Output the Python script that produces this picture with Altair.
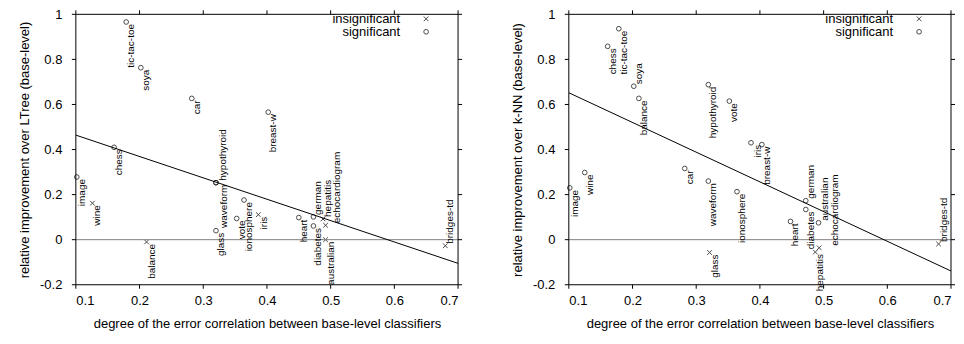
import altair as alt
import pandas as pd

# ---------------- data ----------------
x_ticks = [0.1, 0.2, 0.3, 0.4, 0.5, 0.6, 0.7]
y_ticks = [-0.2, 0.0, 0.2, 0.4, 0.6, 0.8, 1.0]
x_title = "degree of the error correlation between base-level classifiers"

# left panel: relative improvement over LTree
ltree_names = ["tic-tac-toe", "soya", "car", "breast-w", "chess", "image", "wine",
               "balance", "glass", "waveform", "hypothyroid", "vote", "ionosphere",
               "iris", "heart", "diabetes", "german", "hepatitis", "echocardiogram",
               "australian", "bridges-td"]
ltree_x = [0.179, 0.202, 0.282, 0.402, 0.160, 0.1015, 0.126,
           0.211, 0.320, 0.320, 0.320, 0.3525, 0.364,
           0.3865, 0.450, 0.473, 0.473, 0.488, 0.492,
           0.492, 0.680]
ltree_y = [0.966, 0.763, 0.627, 0.566, 0.410, 0.278, 0.162,
           -0.010, 0.040, 0.253, 0.253, 0.094, 0.176,
           0.111, 0.098, 0.061, 0.101, 0.092, 0.064,
           0.000, -0.027]
ltree_sig = ["significant", "significant", "significant", "significant", "significant",
             "significant", "insignificant", "insignificant", "significant", "significant",
             "significant", "significant", "significant", "insignificant", "significant",
             "significant", "significant", "insignificant", "insignificant",
             "insignificant", "insignificant"]
ltree_fit_x = [0.1, 0.7]
ltree_fit_y = [0.464, -0.105]

# right panel: relative improvement over k-NN
knn_names = ["chess", "tic-tac-toe", "soya", "balance", "hypothyroid", "vote", "iris",
             "breast-w", "image", "wine", "car", "waveform", "ionosphere", "glass",
             "heart", "diabetes", "german", "australian", "hepatitis", "echocardiogram",
             "bridges-td"]
knn_x = [0.161, 0.1785, 0.202, 0.210, 0.319, 0.352, 0.386,
         0.403, 0.1015, 0.125, 0.282, 0.319, 0.364, 0.321,
         0.448, 0.472, 0.472, 0.492, 0.487, 0.493,
         0.6805]
knn_y = [0.858, 0.936, 0.681, 0.627, 0.688, 0.615, 0.430,
         0.422, 0.230, 0.298, 0.316, 0.260, 0.213, -0.057,
         0.081, 0.134, 0.173, 0.075, -0.055, -0.036,
         -0.019]
knn_sig = ["significant"] * 13 + ["insignificant"] + ["significant"] * 4 + \
          ["insignificant", "insignificant", "insignificant"]
knn_fit_x = [0.1, 0.7]
knn_fit_y = [0.652, -0.139]

# label placement styles (labels drawn upward instead of downward, extra sideways shift)
ltree_up = ["hypothyroid", "german", "hepatitis", "echocardiogram", "bridges-td"]
knn_up = ["soya", "german", "australian", "echocardiogram", "bridges-td"]
ltree_shift = {"waveform": 8, "hypothyroid": 7, "echocardiogram": 11, "iris": 6}
knn_shift = {"echocardiogram": 16, "australian": 7, "iris": 7}

# ---------------- style ----------------
FONT = "Liberation Sans"
XPATH = "M-1,-1L1,1M-1,1L1,-1"
W, H = 383, 271
TICK = 4

xscale = alt.Scale(domain=[x_ticks[0], x_ticks[-1]], nice=False, zero=False)
yscale = alt.Scale(domain=[y_ticks[0], y_ticks[-1]], nice=False, zero=False)
shape_scale = alt.Scale(domain=["insignificant", "significant"], range=[XPATH, "circle"])

ylabel_expr = "datum.value < 0 ? '-' + format(-datum.value, '~g') : format(datum.value, '~g')"


def panel(names, xs, ys, sig, up, shift, fit_x, fit_y, ytitle):
    pts = pd.DataFrame({"name": names, "x": xs, "y": ys, "sig": sig})
    pts["up"] = pts["name"].isin(up)
    pts["shift"] = [shift.get(n, 5) for n in names]
    fit = pd.DataFrame({"x": fit_x, "y": fit_y})
    xt = pd.DataFrame({"v": x_ticks})
    yt = pd.DataFrame({"v": y_ticks})

    # one identical axis definition shared by every layer, so the merged axis is clean
    xaxis = alt.Axis(values=x_ticks, format=".1f", title=x_title, domain=False,
                     ticks=False, labelPadding=6 + TICK, titlePadding=10, grid=False,
                     orient="bottom")
    yaxis = alt.Axis(values=y_ticks, labelExpr=ylabel_expr, title=ytitle, domain=False,
                     ticks=False, labelPadding=10 + TICK, titlePadding=8, grid=False,
                     orient="left")

    def X(f):
        return alt.X(f"{f}:Q", scale=xscale, axis=xaxis, title=x_title)

    def Y(f):
        return alt.Y(f"{f}:Q", scale=yscale, axis=yaxis, title=ytitle)

    points = alt.Chart(pts).mark_point(filled=False, size=22, strokeWidth=1,
                                       color="black").encode(
        x=X("x"), y=Y("y"),
        shape=alt.Shape("sig:N", scale=shape_scale, legend=None),
    )
    line = alt.Chart(fit).mark_line(color="black", strokeWidth=1, clip=True).encode(
        x=X("x"), y=Y("y"))
    zero = alt.Chart(pd.DataFrame({"y": [0.0]})).mark_rule(
        color="#808080", strokeWidth=1).encode(y=Y("y"))

    # frame (border box) and outward ticks on all four sides
    frame_v = alt.Chart(pd.DataFrame({"v": [x_ticks[0], x_ticks[-1]]})).mark_rule(
        color="black", strokeWidth=1).encode(x=X("v"))
    frame_h = alt.Chart(pd.DataFrame({"v": [y_ticks[0], y_ticks[-1]]})).mark_rule(
        color="black", strokeWidth=1).encode(y=Y("v"))
    tick_b = alt.Chart(xt).mark_rule(color="black", strokeWidth=1).encode(
        x=X("v"), y=alt.value(H), y2=alt.value(H + TICK))
    tick_t = alt.Chart(xt).mark_rule(color="black", strokeWidth=1).encode(
        x=X("v"), y=alt.value(-TICK), y2=alt.value(0))
    tick_l = alt.Chart(yt).mark_rule(color="black", strokeWidth=1).encode(
        y=Y("v"), x=alt.value(-TICK), x2=alt.value(0))
    tick_r = alt.Chart(yt).mark_rule(color="black", strokeWidth=1).encode(
        y=Y("v"), x=alt.value(W), x2=alt.value(W + TICK))

    layers = [points, zero, line, frame_v, frame_h, tick_b, tick_t, tick_l, tick_r]
    groups = pts[["up", "shift"]].drop_duplicates().values.tolist()
    for is_up, sh in groups:
        cond = ("datum.up" if is_up else "!datum.up") + f" && datum.shift == {sh}"
        txt = alt.Chart(pts).transform_filter(cond).mark_text(
            angle=270, align="left" if is_up else "right", baseline="middle",
            dx=2 if is_up else -2, dy=sh, fontSize=10, font=FONT, color="black").encode(
            x=X("x"), y=Y("y"), text="name:N")
        layers.append(txt)

    # in-plot legend (top right)
    leg_rows = [("insignificant", XPATH, 4.5), ("significant", "circle", 17.5)]
    for lab, shp, yy in leg_rows:
        t = alt.Chart(pd.DataFrame({"t": [lab]})).mark_text(
            align="right", baseline="middle", fontSize=13, font=FONT, color="black").encode(
            x=alt.value(W - 58), y=alt.value(yy), text="t:N")
        m = alt.Chart(pd.DataFrame({"t": [lab]})).mark_point(
            shape=shp, size=22, filled=False, strokeWidth=1, color="black").encode(
            x=alt.value(W - 32), y=alt.value(yy))
        layers += [t, m]

    return alt.layer(*layers).properties(width=W, height=H)


left = panel(ltree_names, ltree_x, ltree_y, ltree_sig, ltree_up, ltree_shift,
             ltree_fit_x, ltree_fit_y, "relative improvement over LTree (base-level)")
right = panel(knn_names, knn_x, knn_y, knn_sig, knn_up, knn_shift,
              knn_fit_x, knn_fit_y, "relative improvement over k-NN (base-level)")

chart = alt.hconcat(left, right, spacing=48).properties(
    padding={"left": 10, "top": 0, "right": 0, "bottom": 0}
).configure_view(stroke=None).configure_axis(
    labelFont=FONT, titleFont=FONT, labelFontSize=13, titleFontSize=13,
    titleFontWeight="normal", labelColor="black", titleColor="black",
)

chart.save("out.html", embed_options={"renderer": "svg", "actions": False})
